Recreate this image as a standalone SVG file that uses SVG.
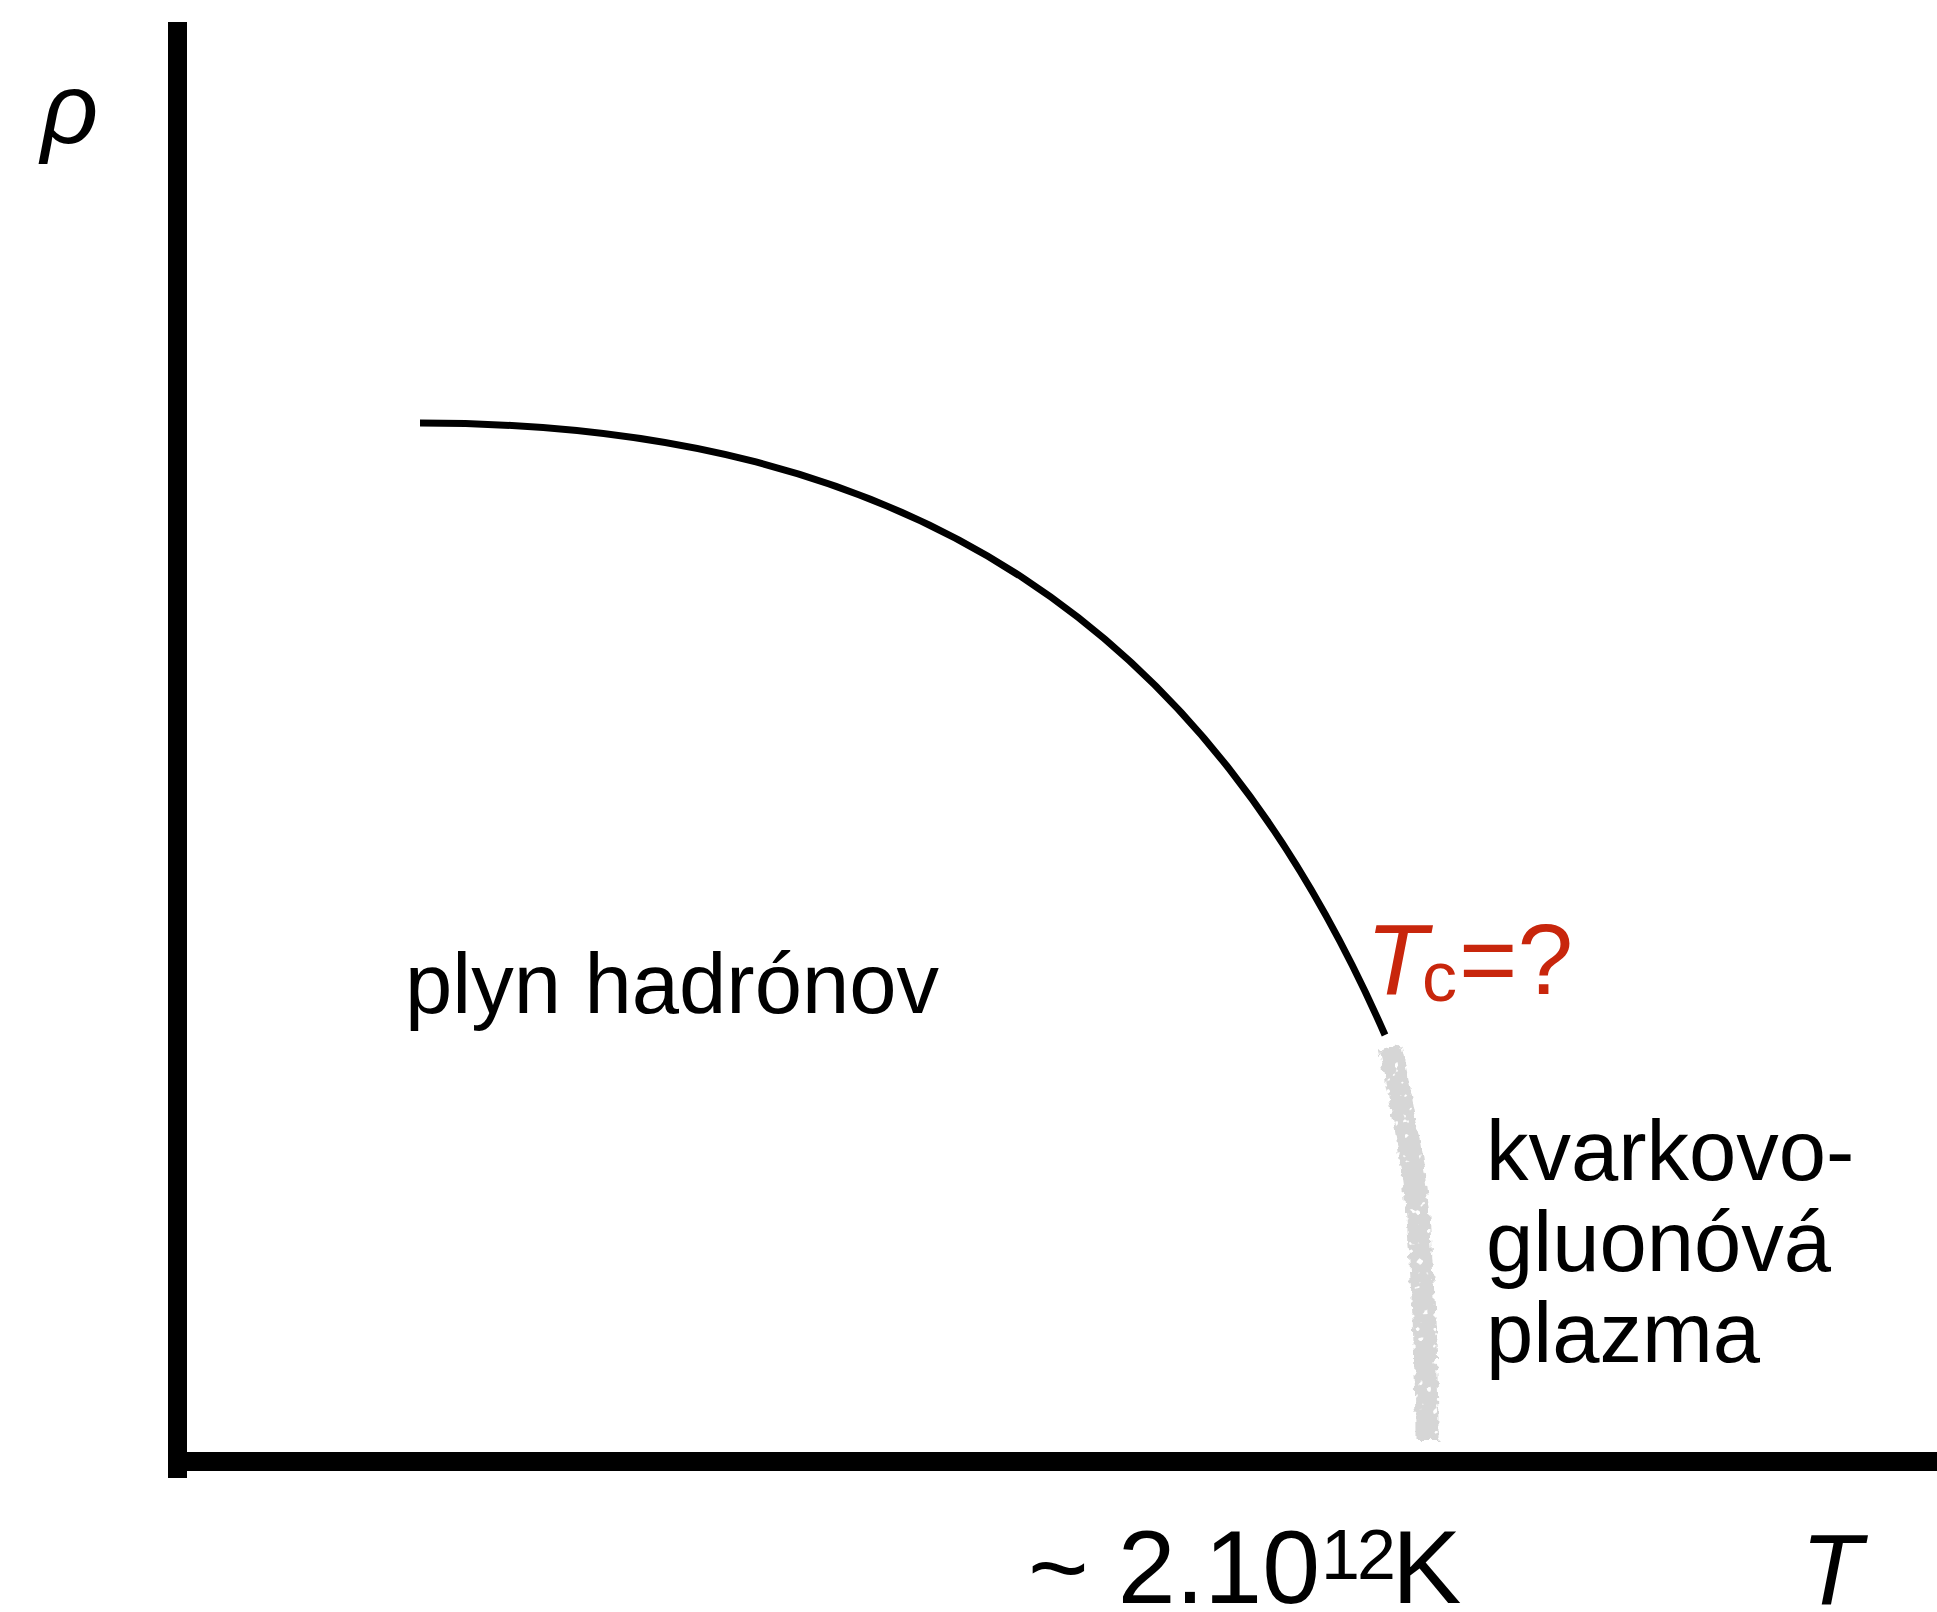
<svg xmlns="http://www.w3.org/2000/svg" width="1937" height="1612" viewBox="0 0 1937 1612">
  <style>
    .lbl { font-family: "Liberation Sans", Arial, sans-serif; fill: #000; }
    .it { font-style: italic; }
    .red { fill: #c8260c; }
  </style>
  <defs>
    <filter id="chalk" x="-50%" y="-5%" width="200%" height="110%">
      <feTurbulence type="fractalNoise" baseFrequency="0.15" numOctaves="2" seed="3" result="n"/>
      <feDisplacementMap in="SourceGraphic" in2="n" scale="8" xChannelSelector="R" yChannelSelector="G" result="d"/>
      <feTurbulence type="fractalNoise" baseFrequency="0.12" numOctaves="2" seed="8" result="n2"/>
      <feColorMatrix in="n2" type="matrix" values="0 0 0 0 0  0 0 0 0 0  0 0 0 0 0  16 0 0 0 -4.2" result="mask"/>
      <feComposite in="d" in2="mask" operator="in"/>
    </filter>
  </defs>
  <rect width="1937" height="1612" fill="#fff"/>

  <g id="axes">
    <rect x="168" y="22" width="19" height="1456" fill="#000"/>
    <rect x="168" y="1452" width="1769" height="19" fill="#000"/>
  </g>

  <g id="connectors">
    <path id="phase-boundary" d="M420,423 C918,423 1208,632 1385,1035" fill="none" stroke="#000" stroke-width="7"/>
    <path id="crossover" d="M1390,1048 C1404,1110 1415,1170 1419,1230 S1427,1380 1427,1440" fill="none" stroke="#d6d6d6" stroke-width="23" filter="url(#chalk)"/>
  </g>

  <g id="label-rho"><text class="lbl it" x="41" y="143" font-size="100">ρ</text></g>
  <g id="label-T"><text class="lbl it" x="1801" y="1604" font-size="100">T</text></g>
  <g id="label-hadron-gas"><text class="lbl" x="405" y="1013" font-size="85">plyn hadrónov</text></g>
  <g id="label-qgp">
    <text class="lbl" font-size="85">
      <tspan x="1486" y="1180">kvarkovo-</tspan>
      <tspan x="1486" y="1271">gluonóvá</tspan>
      <tspan x="1486" y="1362">plazma</tspan>
    </text>
  </g>
  <g id="label-tc">
    <text class="lbl red"><tspan class="it" x="1366" y="994" font-size="100">T</tspan><tspan x="1422" y="1001" font-size="70">c</tspan><tspan x="1459" y="994" font-size="100">=?</tspan></text>
  </g>
  <g id="label-temp">
    <text class="lbl" font-size="104"><tspan x="1028" y="1603">~ 2.10</tspan><tspan x="1321 1357" y="1579" font-size="70">12</tspan><tspan x="1392" y="1603">K</tspan></text>
  </g>
</svg>
